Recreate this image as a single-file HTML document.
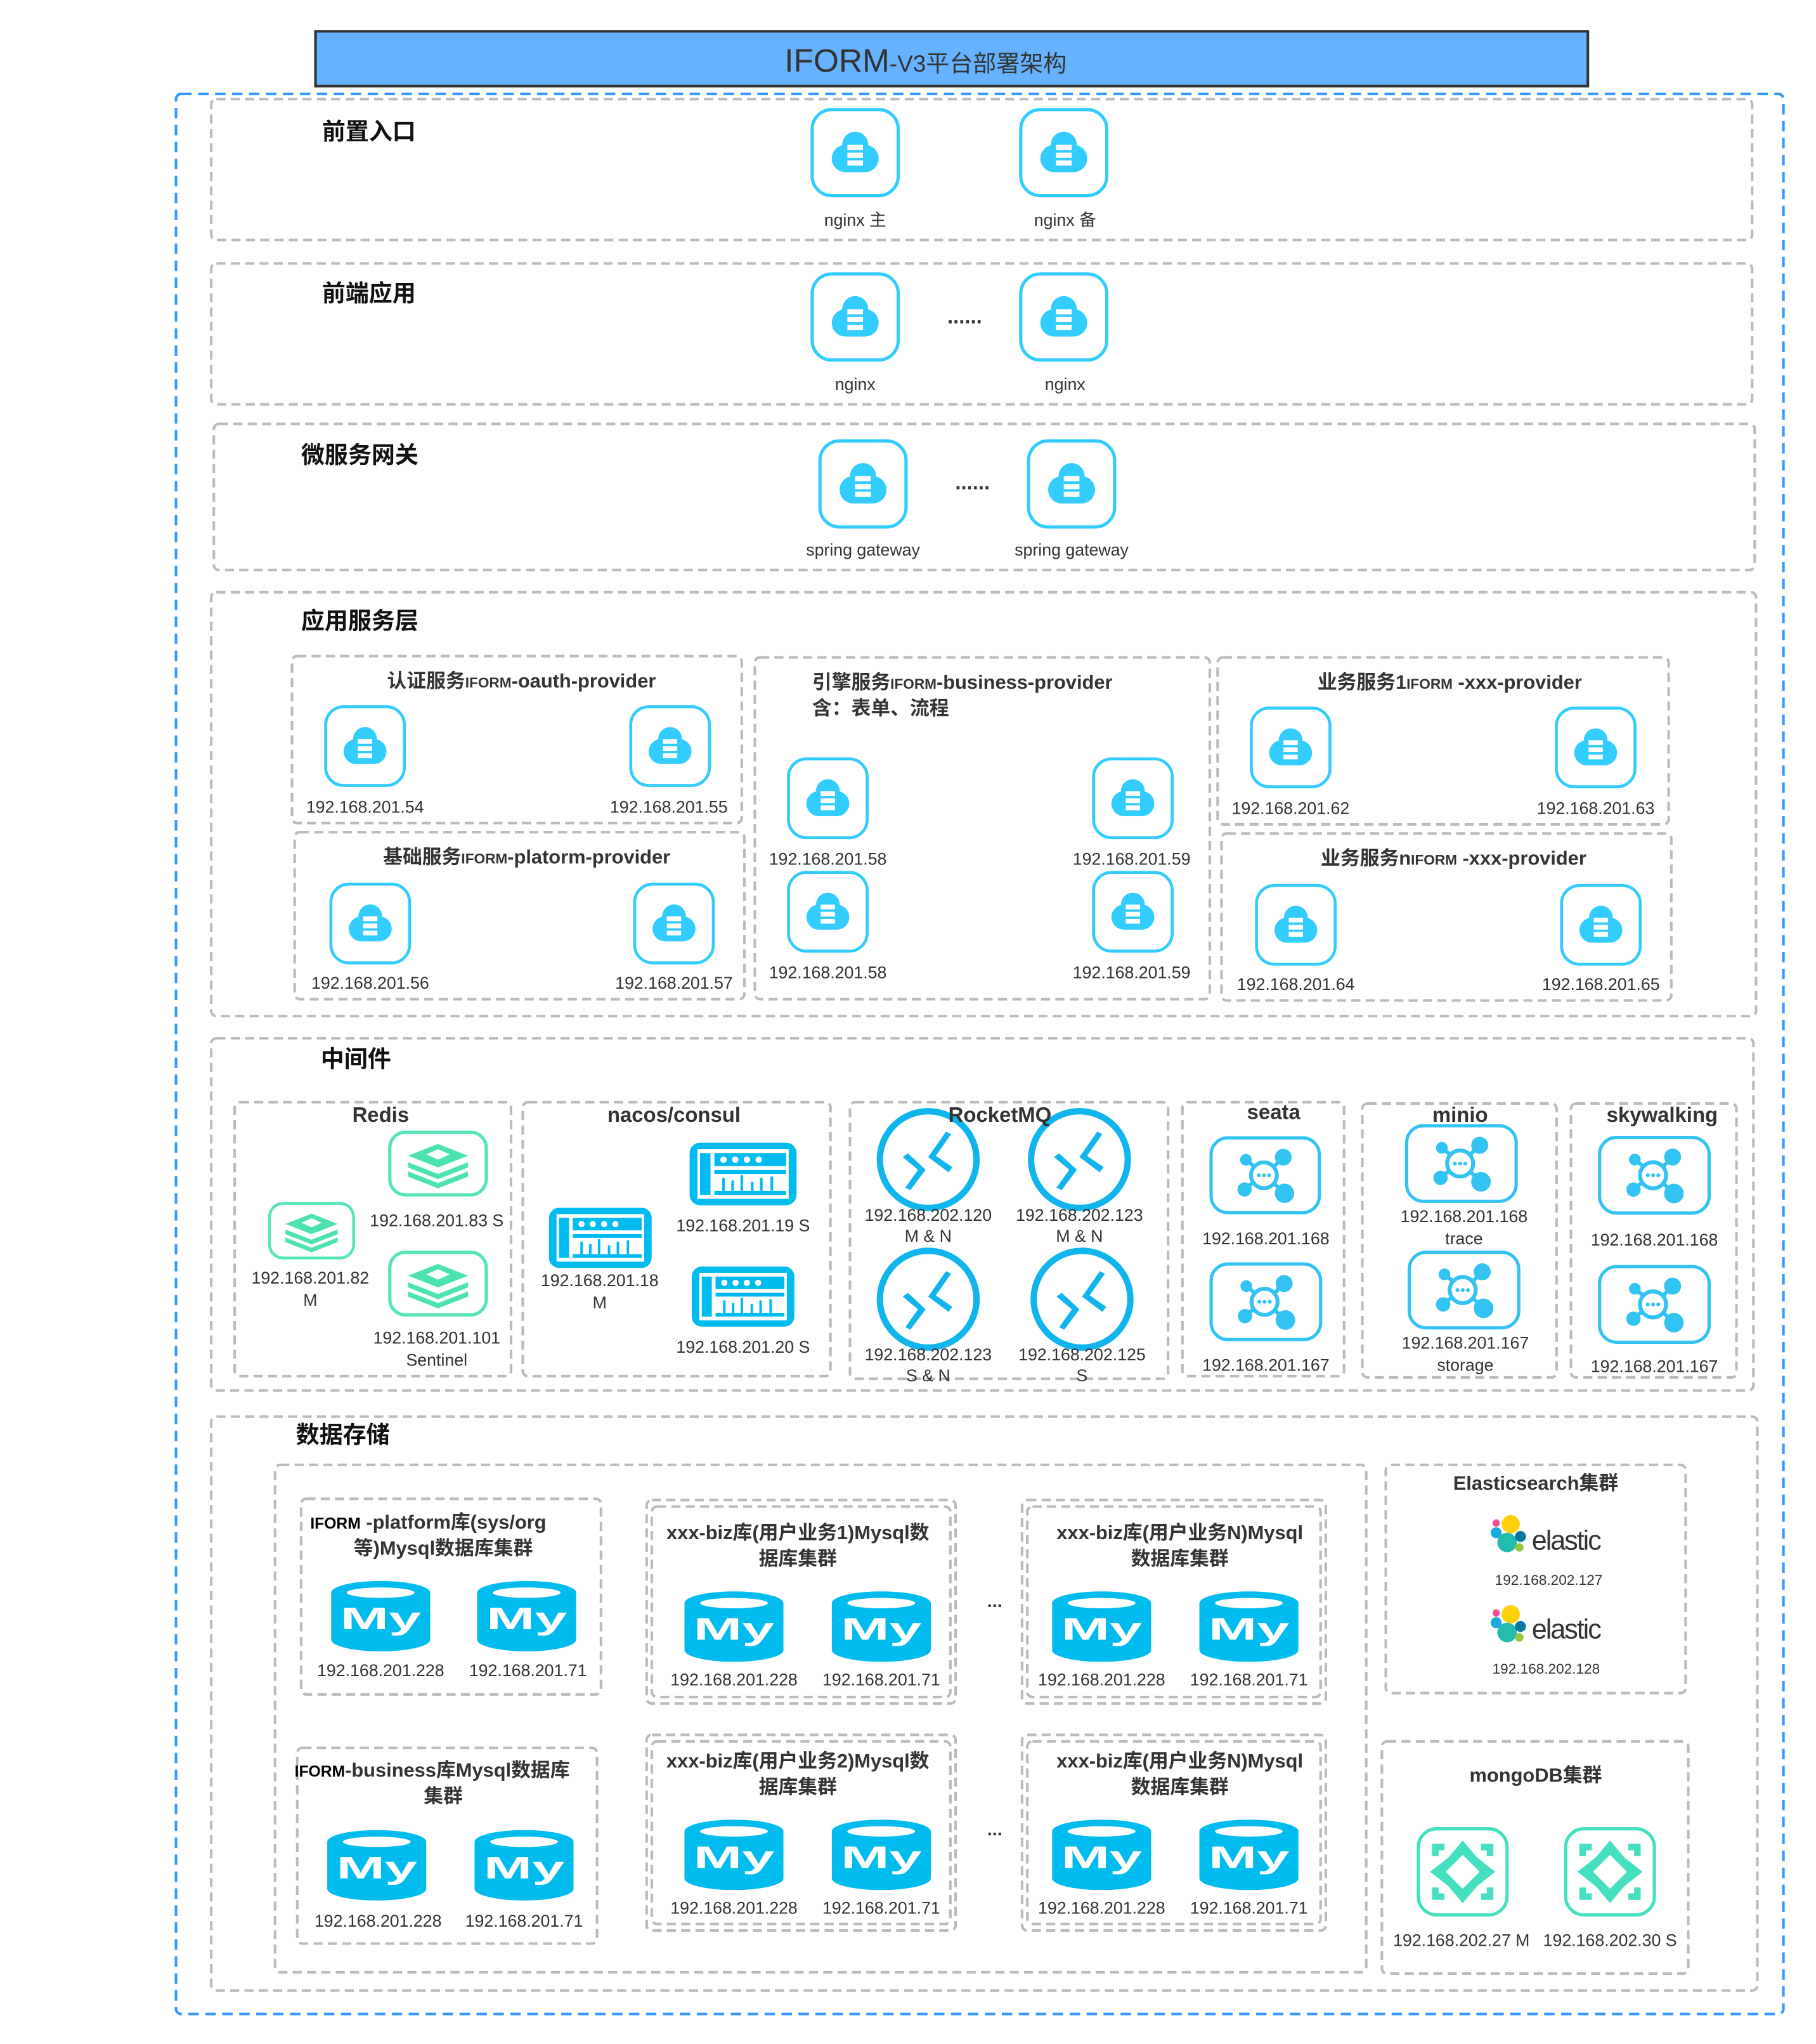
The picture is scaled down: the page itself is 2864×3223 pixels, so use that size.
<!DOCTYPE html>
<html><head><meta charset="utf-8"><style>
html,body{margin:0;padding:0;background:#fff}
svg{display:block}
text{font-family:"Liberation Sans","Noto Sans CJK SC",sans-serif;fill:#333}
.l{font-size:13px}
.t{font-size:16px;font-weight:bold}
.h{font-size:18px;font-weight:bold;fill:#111}
.g{fill:none;stroke:#bbb;stroke-width:2;stroke-dasharray:7 4}
</style></head><body>
<svg width="2864" height="3223" viewBox="0 0 1393 1567" preserveAspectRatio="none" xmlns="http://www.w3.org/2000/svg">
<defs>
<symbol id="cloud" viewBox="0 0 70 70">
<rect x="2" y="2" width="66" height="66" rx="15" fill="#fff" stroke="#33ccff" stroke-width="2.5"/>
<circle cx="35" cy="29" r="10" fill="#33ccff"/>
<rect x="17" y="29" width="36" height="21" rx="10.5" fill="#33ccff"/>
<rect x="29" y="29" width="12" height="4" fill="#fff"/><rect x="29" y="35" width="12" height="4" fill="#fff"/><rect x="29" y="41" width="12" height="4" fill="#fff"/>
</symbol>
<symbol id="redis" viewBox="0 0 78 52">
<rect x="2" y="2" width="74" height="48" rx="12" fill="#fff" stroke="#55e6b4" stroke-width="2.5"/>
<path d="M16 20 L39 11 L62 20 L39 29Z" fill="#4de3b0"/>
<path d="M16 25 L39 34 L62 25 L62 29 L39 38 L16 29Z" fill="#4de3b0"/>
<path d="M16 32 L39 41 L62 32 L62 36 L39 45 L16 36Z" fill="#4de3b0"/>
<path d="M30 19 L39 15 L48 19 L39 23Z" fill="#fff"/>
</symbol>
<symbol id="nacos" viewBox="0 0 84 50">
<rect x="1" y="1" width="82" height="48" rx="8" fill="#00bbee"/>
<rect x="7" y="6" width="70" height="38" fill="#fff"/>
<rect x="9" y="9" width="8" height="32" fill="#00bbee"/>
<rect x="20" y="9" width="55" height="10" fill="#00bbee"/>
<circle cx="27" cy="14" r="2.5" fill="#fff"/><circle cx="36" cy="14" r="2.5" fill="#fff"/><circle cx="45" cy="14" r="2.5" fill="#fff"/><circle cx="54" cy="14" r="2.5" fill="#fff"/>
<rect x="20" y="22" width="55" height="3" fill="#00bbee"/>
<rect x="20" y="38" width="55" height="3" fill="#00bbee"/>
<rect x="26" y="28" width="2" height="10" fill="#00bbee"/><rect x="33" y="30" width="2" height="8" fill="#00bbee"/><rect x="40" y="26" width="2" height="12" fill="#00bbee"/><rect x="48" y="31" width="2" height="7" fill="#00bbee"/><rect x="55" y="28" width="2" height="10" fill="#00bbee"/><rect x="63" y="27" width="2" height="11" fill="#00bbee"/>
</symbol>
<symbol id="mq" viewBox="0 0 84 84">
<circle cx="42" cy="42" r="38" fill="#fff" stroke="#11b5ee" stroke-width="5"/>
<path d="M22 40 L34 50 L24 64 L28 66 L40 50 L26 37Z" fill="#11b5ee"/>
<path d="M56 20 L42 40 L58 52 L61 48 L48 39 L60 22Z" fill="#11b5ee"/>
</symbol>
<symbol id="net" viewBox="0 0 88 62">
<rect x="2" y="2" width="84" height="58" rx="13" fill="#fff" stroke="#33c3f3" stroke-width="2.5"/>
<g fill="#33c3f3" stroke="#33c3f3"><line x1="44" y1="31" x2="29" y2="19" stroke-width="3"/><line x1="44" y1="31" x2="58" y2="17" stroke-width="3"/><line x1="44" y1="31" x2="28" y2="41" stroke-width="3"/><line x1="44" y1="31" x2="58" y2="44" stroke-width="3"/>
<circle cx="29" cy="19" r="4"/><circle cx="58" cy="17" r="6"/><circle cx="28" cy="42" r="5"/><circle cx="59" cy="45" r="7"/></g>
<circle cx="43" cy="31" r="10" fill="#fff" stroke="#33c3f3" stroke-width="3"/>
<circle cx="39" cy="31" r="1.5" fill="#33c3f3"/><circle cx="43" cy="31" r="1.5" fill="#33c3f3"/><circle cx="47" cy="31" r="1.5" fill="#33c3f3"/>
</symbol>
<symbol id="my" viewBox="0 0 76 54">
<path d="M0 9 A38 9 0 0 1 76 9 L76 45 A38 9 0 0 1 0 45Z" fill="#00bbee"/>
<ellipse cx="38" cy="9" rx="26" ry="4" fill="#fff"/>
<text x="38" y="37" text-anchor="middle" style="font-size:24px;font-weight:900;fill:#fff;font-family:'Liberation Sans',sans-serif" textLength="62" lengthAdjust="spacingAndGlyphs">My</text>
</symbol>
<symbol id="mongo" viewBox="0 0 72 70">
<rect x="2" y="2" width="68" height="66" rx="14" fill="#fff" stroke="#44e0c0" stroke-width="2.5"/>
<path d="M15 16 H57 V54 H15Z" fill="none" stroke="#44e0c0" stroke-width="5"/>
<rect x="22" y="10" width="28" height="50" fill="#fff"/><rect x="8" y="23" width="56" height="24" fill="#fff"/>
<path d="M36 11 L47 24 L61 35 L47 46 L36 59 L25 46 L11 35 L25 24Z" fill="#44e0c0"/>
<path d="M36 22 L49 35 L36 48 L23 35Z" fill="#fff"/>
</symbol>
<symbol id="elastic" viewBox="0 0 30 34">
<circle cx="17" cy="9" r="7.5" fill="#fed10a"/>
<circle cx="5" cy="8" r="3" fill="#f04e98"/>
<circle cx="5" cy="16" r="4.5" fill="#1ba9e1"/>
<circle cx="14" cy="24" r="8" fill="#24bbb1"/>
<circle cx="25" cy="19" r="4.5" fill="#0779a1"/>
<circle cx="24" cy="28" r="3.5" fill="#93c83e"/>
</symbol>
</defs>

<rect x="242" y="24" width="976" height="42" fill="#66b2ff" stroke="#333" stroke-width="2"/>
<text x="710" y="55" text-anchor="middle"><tspan style="font-size:25px">IFORM</tspan><tspan style="font-size:18px">-V3平台部署架构</tspan></text>

<rect x="135" y="72" width="1233" height="1472" rx="4" fill="none" stroke="#3399ff" stroke-width="2" stroke-dasharray="8 5"/>

<rect class="g" x="162" y="76" width="1182" height="108" rx="4"/>
<text class="h" x="247" y="107">前置入口</text>
<use href="#cloud" x="621" y="82" width="70" height="70"/><use href="#cloud" x="781" y="82" width="70" height="70"/>
<text class="l" x="656" y="173" text-anchor="middle">nginx 主</text><text class="l" x="817" y="173" text-anchor="middle">nginx 备</text>

<rect class="g" x="162" y="202" width="1182" height="108" rx="4"/>
<text class="h" x="247" y="231">前端应用</text>
<use href="#cloud" x="621" y="208" width="70" height="70"/><use href="#cloud" x="781" y="208" width="70" height="70"/>
<text x="740" y="248" text-anchor="middle" style="font-size:16px;font-weight:bold">......</text>
<text class="l" x="656" y="299" text-anchor="middle">nginx</text><text class="l" x="817" y="299" text-anchor="middle">nginx</text>

<rect class="g" x="164" y="325" width="1182" height="112" rx="4"/>
<text class="h" x="231" y="355">微服务网关</text>
<use href="#cloud" x="627" y="336" width="70" height="70"/><use href="#cloud" x="787" y="336" width="70" height="70"/>
<text x="746" y="375" text-anchor="middle" style="font-size:16px;font-weight:bold">......</text>
<text class="l" x="662" y="426" text-anchor="middle">spring gateway</text><text class="l" x="822" y="426" text-anchor="middle">spring gateway</text>

<rect class="g" x="162" y="454" width="1185" height="325" rx="4"/>
<text class="h" x="231" y="482">应用服务层</text>
<rect class="g" x="224" y="503" width="345" height="128" rx="4"/>
<text class="t" x="400" y="527" text-anchor="middle" style="font-size:15px">认证服务<tspan style="font-size:11px">IFORM</tspan>-oauth-provider</text>
<use href="#cloud" x="244" y="540" width="72" height="64"/><use href="#cloud" x="478" y="540" width="72" height="64"/>
<text class="l" x="280" y="623" text-anchor="middle">192.168.201.54</text><text class="l" x="513" y="623" text-anchor="middle">192.168.201.55</text>

<rect class="g" x="226" y="638" width="345" height="128" rx="4"/>
<text class="t" x="404" y="662" text-anchor="middle" style="font-size:15px">基础服务<tspan style="font-size:11px">IFORM</tspan>-platorm-provider</text>
<use href="#cloud" x="248" y="676" width="72" height="64"/><use href="#cloud" x="481" y="676" width="72" height="64"/>
<text class="l" x="284" y="758" text-anchor="middle">192.168.201.56</text><text class="l" x="517" y="758" text-anchor="middle">192.168.201.57</text>

<rect class="g" x="579" y="504" width="349" height="262" rx="4"/>
<text class="t" x="623" y="528" style="font-size:15px">引擎服务<tspan style="font-size:11px">IFORM</tspan>-business-provider</text>
<text class="t" x="623" y="548" style="font-size:15px">含：表单、流程</text>
<use href="#cloud" x="599" y="580" width="72" height="64"/><use href="#cloud" x="833" y="580" width="72" height="64"/>
<text class="l" x="635" y="663" text-anchor="middle">192.168.201.58</text><text class="l" x="868" y="663" text-anchor="middle">192.168.201.59</text>
<use href="#cloud" x="599" y="667" width="72" height="64"/><use href="#cloud" x="833" y="667" width="72" height="64"/>
<text class="l" x="635" y="750" text-anchor="middle">192.168.201.58</text><text class="l" x="868" y="750" text-anchor="middle">192.168.201.59</text>

<rect class="g" x="934" y="504" width="346" height="128" rx="4"/>
<text class="t" x="1112" y="528" text-anchor="middle" style="font-size:15px">业务服务1<tspan style="font-size:11px">IFORM</tspan> -xxx-provider</text>
<use href="#cloud" x="954" y="541" width="72" height="64"/><use href="#cloud" x="1188" y="541" width="72" height="64"/>
<text class="l" x="990" y="624" text-anchor="middle">192.168.201.62</text><text class="l" x="1224" y="624" text-anchor="middle">192.168.201.63</text>

<rect class="g" x="937" y="639" width="345" height="128" rx="4"/>
<text class="t" x="1115" y="663" text-anchor="middle" style="font-size:15px">业务服务n<tspan style="font-size:11px">IFORM</tspan> -xxx-provider</text>
<use href="#cloud" x="958" y="677" width="72" height="64"/><use href="#cloud" x="1192" y="677" width="72" height="64"/>
<text class="l" x="994" y="759" text-anchor="middle">192.168.201.64</text><text class="l" x="1228" y="759" text-anchor="middle">192.168.201.65</text>

<rect class="g" x="162" y="796" width="1183" height="270" rx="4"/>
<text class="h" x="246" y="818">中间件</text>

<rect class="g" x="180" y="845" width="212" height="210" rx="4"/>
<text class="t" x="292" y="860" text-anchor="middle">Redis</text>
<use href="#redis" x="297" y="866" width="78" height="52"/>
<text class="l" x="335" y="940" text-anchor="middle">192.168.201.83 S</text>
<use href="#redis" x="205" y="917" width="68" height="53"/>
<text class="l" x="238" y="984" text-anchor="middle">192.168.201.82</text><text class="l" x="238" y="1001" text-anchor="middle">M</text>
<use href="#redis" x="297" y="958" width="78" height="52"/>
<text class="l" x="335" y="1030" text-anchor="middle">192.168.201.101</text><text class="l" x="335" y="1047" text-anchor="middle">Sentinel</text>

<rect class="g" x="401" y="845" width="236" height="210" rx="4"/>
<text class="t" x="517" y="860" text-anchor="middle">nacos/consul</text>
<use href="#nacos" x="528" y="875" width="84" height="50"/>
<text class="l" x="570" y="944" text-anchor="middle">192.168.201.19 S</text>
<use href="#nacos" x="419" y="925" width="83" height="48"/>
<text class="l" x="460" y="986" text-anchor="middle">192.168.201.18</text><text class="l" x="460" y="1003" text-anchor="middle">M</text>
<use href="#nacos" x="528" y="970" width="84" height="48"/>
<text class="l" x="570" y="1037" text-anchor="middle">192.168.201.20 S</text>

<rect class="g" x="652" y="845" width="244" height="212" rx="4"/>
<use href="#mq" x="670" y="848" width="84" height="82"/><use href="#mq" x="786" y="848" width="84" height="82"/>
<use href="#mq" x="670" y="955" width="84" height="82"/><use href="#mq" x="788" y="955" width="84" height="82"/>
<text class="t" x="767" y="860" text-anchor="middle">RocketMQ</text>
<text class="l" x="712" y="936" text-anchor="middle">192.168.202.120</text><text class="l" x="712" y="952" text-anchor="middle">M &amp; N</text>
<text class="l" x="828" y="936" text-anchor="middle">192.168.202.123</text><text class="l" x="828" y="952" text-anchor="middle">M &amp; N</text>
<text class="l" x="712" y="1043" text-anchor="middle">192.168.202.123</text><text class="l" x="712" y="1059" text-anchor="middle">S &amp; N</text>
<text class="l" x="830" y="1043" text-anchor="middle">192.168.202.125</text><text class="l" x="830" y="1059" text-anchor="middle">S</text>

<rect class="g" x="907" y="845" width="124" height="210" rx="4"/>
<text class="t" x="977" y="858" text-anchor="middle">seata</text>
<use href="#net" x="927" y="870" width="87" height="62"/><use href="#net" x="927" y="967" width="88" height="62"/>
<text class="l" x="971" y="954" text-anchor="middle">192.168.201.168</text><text class="l" x="971" y="1051" text-anchor="middle">192.168.201.167</text>

<rect class="g" x="1045" y="846" width="149" height="210" rx="4"/>
<use href="#net" x="1077" y="861" width="88" height="62"/><use href="#net" x="1079" y="958" width="88" height="62"/>
<text class="t" x="1120" y="860" text-anchor="middle">minio</text>
<text class="l" x="1123" y="937" text-anchor="middle">192.168.201.168</text><text class="l" x="1123" y="954" text-anchor="middle">trace</text>
<text class="l" x="1124" y="1034" text-anchor="middle">192.168.201.167</text><text class="l" x="1124" y="1051" text-anchor="middle">storage</text>

<rect class="g" x="1205" y="846" width="127" height="210" rx="4"/>
<text class="t" x="1275" y="860" text-anchor="middle">skywalking</text>
<use href="#net" x="1225" y="870" width="88" height="62"/><use href="#net" x="1225" y="969" width="88" height="62"/>
<text class="l" x="1269" y="955" text-anchor="middle">192.168.201.168</text><text class="l" x="1269" y="1052" text-anchor="middle">192.168.201.167</text>

<rect class="g" x="162" y="1086" width="1186" height="440" rx="4"/>
<text class="h" x="227" y="1106">数据存储</text>
<rect class="g" x="211" y="1123" width="837" height="389" rx="4"/>

<rect class="g" x="231" y="1149" width="230" height="150" rx="4"/>
<text class="t" x="238" y="1172" style="font-size:15px"><tspan style="font-size:12px;fill:#000">IFORM</tspan> -platform库(sys/org</text>
<text class="t" x="340" y="1192" text-anchor="middle" style="font-size:15px">等)Mysql数据库集群</text>
<use href="#my" x="254" y="1212" width="76" height="54"/><use href="#my" x="366" y="1212" width="76" height="54"/>
<text class="l" x="292" y="1285" text-anchor="middle">192.168.201.228</text><text class="l" x="405" y="1285" text-anchor="middle">192.168.201.71</text>

<rect class="g" x="228" y="1340" width="230" height="150" rx="4"/>
<text class="t" x="226" y="1362" style="font-size:15px"><tspan style="font-size:12px;fill:#000">IFORM</tspan>-business库Mysql数据库</text>
<text class="t" x="340" y="1382" text-anchor="middle" style="font-size:15px">集群</text>
<use href="#my" x="251" y="1403" width="76" height="54"/><use href="#my" x="364" y="1403" width="76" height="54"/>
<text class="l" x="290" y="1477" text-anchor="middle">192.168.201.228</text><text class="l" x="402" y="1477" text-anchor="middle">192.168.201.71</text>

<g>
<rect class="g" x="496" y="1150" width="237" height="156" rx="4"/>
<rect class="g" x="500" y="1155" width="229" height="146" rx="4"/>
<text class="t" x="612" y="1180" text-anchor="middle" style="font-size:15px">xxx-biz库(用户业务1)Mysql数</text>
<text class="t" x="612" y="1200" text-anchor="middle" style="font-size:15px">据库集群</text>
<use href="#my" x="525" y="1220" width="76" height="54"/><use href="#my" x="638" y="1220" width="76" height="54"/>
<text class="l" x="563" y="1292" text-anchor="middle">192.168.201.228</text><text class="l" x="676" y="1292" text-anchor="middle">192.168.201.71</text>
</g>
<text x="763" y="1232" text-anchor="middle" style="font-size:14px;font-weight:bold">...</text>
<g>
<rect class="g" x="784" y="1150" width="233" height="156" rx="4"/>
<rect class="g" x="788" y="1155" width="225" height="146" rx="4"/>
<text class="t" x="905" y="1180" text-anchor="middle" style="font-size:15px">xxx-biz库(用户业务N)Mysql</text>
<text class="t" x="905" y="1200" text-anchor="middle" style="font-size:15px">数据库集群</text>
<use href="#my" x="807" y="1220" width="76" height="54"/><use href="#my" x="920" y="1220" width="76" height="54"/>
<text class="l" x="845" y="1292" text-anchor="middle">192.168.201.228</text><text class="l" x="958" y="1292" text-anchor="middle">192.168.201.71</text>
</g>
<g>
<rect class="g" x="496" y="1330" width="237" height="150" rx="4"/>
<rect class="g" x="500" y="1335" width="229" height="140" rx="4"/>
<text class="t" x="612" y="1355" text-anchor="middle" style="font-size:15px">xxx-biz库(用户业务2)Mysql数</text>
<text class="t" x="612" y="1375" text-anchor="middle" style="font-size:15px">据库集群</text>
<use href="#my" x="525" y="1395" width="76" height="54"/><use href="#my" x="638" y="1395" width="76" height="54"/>
<text class="l" x="563" y="1467" text-anchor="middle">192.168.201.228</text><text class="l" x="676" y="1467" text-anchor="middle">192.168.201.71</text>
</g>
<text x="763" y="1407" text-anchor="middle" style="font-size:14px;font-weight:bold">...</text>
<g>
<rect class="g" x="784" y="1330" width="233" height="150" rx="4"/>
<rect class="g" x="788" y="1335" width="225" height="140" rx="4"/>
<text class="t" x="905" y="1355" text-anchor="middle" style="font-size:15px">xxx-biz库(用户业务N)Mysql</text>
<text class="t" x="905" y="1375" text-anchor="middle" style="font-size:15px">数据库集群</text>
<use href="#my" x="807" y="1395" width="76" height="54"/><use href="#my" x="920" y="1395" width="76" height="54"/>
<text class="l" x="845" y="1467" text-anchor="middle">192.168.201.228</text><text class="l" x="958" y="1467" text-anchor="middle">192.168.201.71</text>
</g>

<rect class="g" x="1063" y="1123" width="230" height="175" rx="4"/>
<text class="t" x="1178" y="1142" text-anchor="middle" style="font-size:15px">Elasticsearch集群</text>
<use href="#elastic" x="1143" y="1160" width="28" height="32"/>
<text x="1175" y="1188" style="font-size:21px;fill:#333;letter-spacing:-1px">elastic</text>
<text x="1188" y="1215" text-anchor="middle" style="font-size:11px">192.168.202.127</text>
<use href="#elastic" x="1143" y="1229" width="28" height="32"/>
<text x="1175" y="1256" style="font-size:21px;fill:#333;letter-spacing:-1px">elastic</text>
<text x="1186" y="1283" text-anchor="middle" style="font-size:11px">192.168.202.128</text>

<rect class="g" x="1060" y="1335" width="235" height="178" rx="4"/>
<text class="t" x="1178" y="1366" text-anchor="middle" style="font-size:15px">mongoDB集群</text>
<use href="#mongo" x="1086" y="1400" width="72" height="70"/><use href="#mongo" x="1199" y="1400" width="72" height="70"/>
<text class="l" x="1121" y="1492" text-anchor="middle">192.168.202.27 M</text><text class="l" x="1235" y="1492" text-anchor="middle">192.168.202.30 S</text>
</svg>
</body></html>
